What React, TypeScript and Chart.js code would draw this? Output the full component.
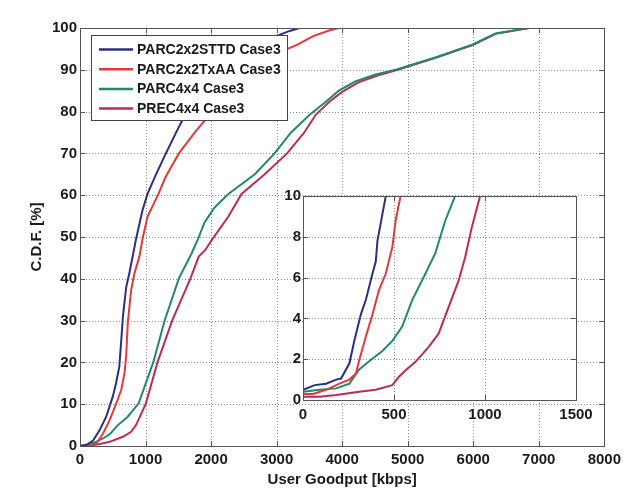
import React, { useEffect, useRef } from "react";
import { Chart, registerables } from "chart.js";

Chart.register(...registerables);

const FONT = "'Liberation Sans', Arial, Helvetica, sans-serif";

const seriesNames = ["PARC2x2STTD Case3", "PARC2x2TxAA Case3", "PARC4x4 Case3", "PREC4x4 Case3"];
const seriesColors = ["#2c2f80", "#e0393e", "#23886a", "#bf2a55"];

// Main plot: user goodput [kbps] vs CDF [%]
const stbcX = [0, 100, 200, 300, 400, 500, 550, 600, 630, 655, 705, 755, 805, 855, 955, 1030, 1160, 1310, 1460, 1610, 1850, 2150, 2500, 2850, 3050, 3200, 3350, 3550];
const stbcY = [0, 0.3, 1.3, 3.8, 7, 11.8, 15, 19, 25.4, 31, 38, 41.5, 45.5, 49.5, 56.5, 60.3, 65, 70, 74.8, 79.5, 85, 90, 94, 97, 98.4, 99.3, 100, 100];

const txaaX = [0, 150, 252, 352, 453, 553, 629, 679, 704, 729, 780, 830, 906, 960, 1031, 1197, 1308, 1509, 1761, 1912, 2250, 2650, 2950, 3120, 3320, 3550, 3800, 3950, 4300];
const txaaY = [0, 0.2, 0.6, 3, 6.2, 10.2, 13.4, 17.4, 21.4, 29.4, 37.3, 41.3, 45.3, 50, 54.9, 60.3, 64.4, 70, 75.2, 78, 85, 90, 93.2, 94.7, 96, 98, 99.4, 100, 100];

const parc4X = [0, 100, 201, 352, 453, 578, 729, 895, 1117, 1293, 1509, 1700, 1800, 1900, 2050, 2264, 2667, 2969, 3220, 3500, 3723, 3950, 4200, 4500, 4830, 5434, 5987, 6340, 6843, 7245];
const parc4Y = [0, 0.3, 0.7, 1.8, 2.8, 5, 7, 10.2, 20, 30.1, 40.1, 46, 49.5, 53.5, 57, 60.3, 65, 70, 75, 79.2, 82, 85, 87.2, 88.8, 90.1, 93, 96, 98.7, 100, 100];

const prec4X = [0, 150, 302, 453, 654, 780, 855, 1006, 1182, 1409, 1686, 1811, 1912, 2012, 2264, 2465, 2818, 3160, 3422, 3600, 3800, 4000, 4250, 4550, 4850, 5450, 6000, 6360, 6860, 7200];
const prec4Y = [0, 0.1, 0.5, 1, 2.2, 3.4, 5, 10.2, 20, 30.1, 40.1, 45.3, 46.9, 49.3, 54.9, 60.3, 65, 70, 75, 79.3, 82.3, 84.7, 87, 88.7, 90, 93, 96, 98.7, 100, 100];

// Inset: zoom of the 0..10 % region
const inStbcX = [0, 64, 127, 182, 209, 255, 282, 318, 345, 382, 400, 409, 436, 455, 462];
const inStbcY = [0.5, 0.73, 0.8, 1.0, 1.05, 1.8, 2.9, 4.2, 4.9, 6.2, 6.8, 7.8, 9.1, 10, 10.3];

const inTxaaX = [0, 55, 127, 200, 255, 291, 309, 345, 382, 418, 455, 491, 509, 536, 542];
const inTxaaY = [0.3, 0.3, 0.5, 0.8, 1.0, 1.3, 1.95, 3.1, 4.2, 5.4, 6.2, 7.5, 8.8, 10, 10.3];

const inParc4X = [0, 91, 182, 255, 309, 364, 436, 491, 545, 600, 673, 727, 782, 836, 845];
const inParc4Y = [0.4, 0.5, 0.57, 0.8, 1.5, 1.9, 2.4, 2.9, 3.6, 4.9, 6.2, 7.2, 8.8, 10, 10.3];

const inPrec4X = [0, 91, 182, 309, 400, 491, 527, 564, 618, 691, 745, 800, 855, 891, 927, 973, 980];
const inPrec4Y = [0.16, 0.16, 0.24, 0.4, 0.5, 0.73, 1.14, 1.46, 1.87, 2.6, 3.25, 4.55, 5.85, 7.0, 8.45, 10, 10.3];

const mainX = [stbcX, txaaX, parc4X, prec4X];
const mainY = [stbcY, txaaY, parc4Y, prec4Y];
const insetX = [inStbcX, inTxaaX, inParc4X, inPrec4X];
const insetY = [inStbcY, inTxaaY, inParc4Y, inPrec4Y];

const xTitle = "User Goodput [kbps]";
const yTitle = "C.D.F. [%]";

function makeDatasets(xs: number[][], ys: number[][]) {
  return xs.map((xa, i) => ({
    label: seriesNames[i],
    data: xa.map((x, j) => ({ x, y: ys[i][j] })),
    showLine: true,
    borderColor: seriesColors[i],
    backgroundColor: seriesColors[i],
    borderWidth: 2,
    pointRadius: 0,
    tension: 0,
  }));
}

const gridPlugin = {
  id: "dottedGrid",
  beforeDatasetsDraw(chart: any) {
    const { ctx, chartArea: a, scales } = chart;
    ctx.save();
    ctx.strokeStyle = "#8a8a8a";
    ctx.lineWidth = 1;
    ctx.setLineDash([1, 2]);
    ctx.beginPath();
    scales.x.ticks.forEach((t: any) => {
      const px = Math.round(scales.x.getPixelForValue(t.value)) + 0.5;
      ctx.moveTo(px, a.top);
      ctx.lineTo(px, a.bottom);
    });
    scales.y.ticks.forEach((t: any) => {
      const py = Math.round(scales.y.getPixelForValue(t.value)) + 0.5;
      ctx.moveTo(a.left, py);
      ctx.lineTo(a.right, py);
    });
    ctx.stroke();
    ctx.restore();
  },
};

const boxPlugin = {
  id: "boxPlugin",
  afterDatasetsDraw(chart: any) {
    const { ctx, chartArea: a, scales } = chart;
    ctx.save();
    ctx.strokeStyle = "#555";
    ctx.lineWidth = 1;
    ctx.setLineDash([]);
    ctx.strokeRect(Math.round(a.left) + 0.5, Math.round(a.top) + 0.5, Math.round(a.right - a.left), Math.round(a.bottom - a.top));
    const tl = 5;
    ctx.beginPath();
    scales.x.ticks.forEach((t: any) => {
      const px = Math.round(scales.x.getPixelForValue(t.value)) + 0.5;
      ctx.moveTo(px, a.bottom);
      ctx.lineTo(px, a.bottom - tl);
      ctx.moveTo(px, a.top);
      ctx.lineTo(px, a.top + tl);
    });
    scales.y.ticks.forEach((t: any) => {
      const py = Math.round(scales.y.getPixelForValue(t.value)) + 0.5;
      ctx.moveTo(a.left, py);
      ctx.lineTo(a.left + tl, py);
      ctx.moveTo(a.right, py);
      ctx.lineTo(a.right - tl, py);
    });
    ctx.stroke();
    ctx.restore();
  },
};

const whiteAreaPlugin = {
  id: "whiteArea",
  beforeDraw(chart: any) {
    const { ctx, chartArea: a } = chart;
    ctx.save();
    ctx.fillStyle = "#ffffff";
    ctx.fillRect(a.left, a.top, a.right - a.left, a.bottom - a.top);
    ctx.restore();
  },
};

const legendPlugin = {
  id: "insideLegend",
  afterDraw(chart: any) {
    const { ctx } = chart;
    ctx.save();
    const left = 91.5, top = 35.5, w = 196, h = 85;
    ctx.fillStyle = "#fff";
    ctx.fillRect(left, top, w, h);
    ctx.strokeStyle = "#444";
    ctx.lineWidth = 1;
    ctx.strokeRect(left, top, w, h);
    ctx.font = `bold 14px ${FONT}`;
    ctx.textBaseline = "middle";
    ctx.textAlign = "left";
    seriesNames.forEach((name, i) => {
      const y = 49.5 + i * 19.7;
      ctx.strokeStyle = seriesColors[i];
      ctx.lineWidth = 2.5;
      ctx.beginPath();
      ctx.moveTo(99, y);
      ctx.lineTo(133, y);
      ctx.stroke();
      ctx.fillStyle = "#1a1a1a";
      ctx.fillText(name, 137, y + 0.5);
    });
    ctx.restore();
  },
};

function axis(min: number, max: number, step: number, size: number, horizontal: boolean, padding: number, title?: string) {
  const s: any = {
    type: "linear",
    min,
    max,
    ticks: {
      stepSize: step,
      color: "#1a1a1a",
      font: { family: FONT, size: 15, weight: "bold" },
      padding,
      autoSkip: false,
      maxRotation: 0,
      callback: (v: number) => String(v),
    },
    grid: { display: false, drawTicks: false },
    border: { display: false },
    afterFit(scale: any) {
      if (horizontal) scale.height = size;
      else scale.width = size;
    },
  };
  if (title) {
    s.title = {
      display: true,
      text: title,
      color: "#1a1a1a",
      font: { family: FONT, size: 15, weight: "bold" },
      padding: 0,
    };
  }
  return s;
}

export default function App() {
  const mainRef = useRef<HTMLCanvasElement>(null);
  const insetRef = useRef<HTMLCanvasElement>(null);

  useEffect(() => {
    document.body.style.margin = "0";
    const main = new Chart(mainRef.current!, {
      type: "scatter",
      data: { datasets: makeDatasets(mainX, mainY) as any },
      options: {
        animation: false,
        responsive: false,
        layout: { padding: { left: 28, top: 28, right: 16, bottom: 0 } },
        plugins: { legend: { display: false }, tooltip: { enabled: false } },
        scales: {
          x: axis(0, 8000, 1000, 43, true, 5, xTitle),
          y: axis(0, 100, 10, 52, false, 3, yTitle),
        },
      },
      plugins: [gridPlugin, boxPlugin, legendPlugin],
    });
    const inset = new Chart(insetRef.current!, {
      type: "scatter",
      data: { datasets: makeDatasets(insetX, insetY) as any },
      options: {
        animation: false,
        responsive: false,
        layout: { padding: { left: 0, top: 10, right: 27, bottom: 0 } },
        plugins: { legend: { display: false }, tooltip: { enabled: false } },
        scales: {
          x: axis(0, 1500, 500, 30, true, 6),
          y: axis(0, 10, 2, 40, false, 2),
        },
      },
      plugins: [whiteAreaPlugin, gridPlugin, boxPlugin],
    });
    return () => {
      main.destroy();
      inset.destroy();
    };
  }, []);

  return (
    <div style={{ position: "relative", width: 626, height: 489, background: "#fff" }}>
      <canvas ref={mainRef} width={626} height={489} style={{ position: "absolute", left: 0, top: 0 }} />
      <canvas ref={insetRef} width={340} height={245} style={{ position: "absolute", left: 263, top: 185 }} />
    </div>
  );
}
